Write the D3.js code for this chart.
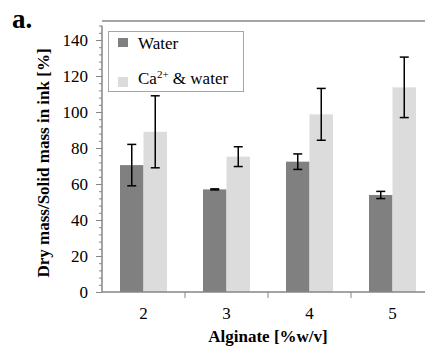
<!DOCTYPE html>
<html><head><meta charset="utf-8">
<script src="https://cdn.jsdelivr.net/npm/d3@7/dist/d3.min.js"></script>
<style>body{margin:0;background:#fff}svg{display:block}svg text{font-family:"Times New Roman","Liberation Serif",Times,serif}</style>
</head><body><svg id="c" width="425" height="352"></svg>
<script>
const categories = ["2","3","4","5"];
const seriesNames = ["Water","Ca2+ & water"];
const waterValues = [70.5, 57, 72.4, 53.9];
const waterErrors = [11.5, 0.3, 4.3, 2];
const caValues = [89, 75.2, 98.7, 113.7];
const caErrors = [20, 5.5, 14.4, 16.8];
const yTicks = [0,20,40,60,80,100,120,140];
const colors = ["#808080","#dcdcdc"];
const FONT = "Times New Roman";

const svg = d3.select("#c");
const left = 102, bottom = 292;
const y = d3.scaleLinear().domain([0,150]).range([bottom, 22]);
const x0 = d3.scaleBand().domain(categories).range([left, left + 83*4]);
const x1 = d3.scaleBand().domain(seriesNames).range([0, x0.bandwidth()]).paddingOuter(0.766);

svg.append("line").attr("x1", left).attr("x2", 425).attr("y1", 21).attr("y2", 21)
  .attr("stroke", "#a6a6a6").attr("stroke-width", 2);

const data = categories.map((c,i)=>({c, vals:[
  {s:seriesNames[0], v:waterValues[i], e:waterErrors[i], col:colors[0]},
  {s:seriesNames[1], v:caValues[i], e:caErrors[i], col:colors[1]}]}));

const groups = svg.append("g").selectAll("g.cat").data(data).join("g").attr("transform", d=>`translate(${x0(d.c)},0)`);
groups.selectAll("rect").data(d=>d.vals).join("rect")
  .attr("x", d=>x1(d.s)).attr("width", x1.bandwidth())
  .attr("y", d=>y(d.v)).attr("height", d=>bottom - y(d.v)).attr("fill", d=>d.col);
const eb = groups.selectAll("g.eb").data(d=>d.vals).join("g").attr("class","eb")
  .attr("transform", d=>`translate(${x1(d.s)+x1.bandwidth()/2},0)`);
eb.append("line").attr("y1", d=>y(d.v+d.e)).attr("y2", d=>y(d.v-d.e)).attr("stroke","#000").attr("stroke-width",1.5);
eb.append("line").attr("x1",-4.5).attr("x2",4.5).attr("y1", d=>y(d.v+d.e)).attr("y2", d=>y(d.v+d.e)).attr("stroke","#000").attr("stroke-width",1.5);
eb.append("line").attr("x1",-4.5).attr("x2",4.5).attr("y1", d=>y(d.v-d.e)).attr("y2", d=>y(d.v-d.e)).attr("stroke","#000").attr("stroke-width",1.5);

const minor = d3.range(0, 149, 4);
svg.append("g").attr("transform", `translate(${left},0)`)
  .call(d3.axisLeft(y).tickValues(minor).tickSize(3).tickFormat(""))
  .call(a=>{a.attr("font-family", null); a.select(".domain").attr("stroke","#868686").attr("stroke-width",1.5).attr("d", `M0,${y(148)}V${bottom}`); a.selectAll("line").attr("stroke","#868686");});
svg.append("g").attr("transform", `translate(${left},0)`)
  .call(d3.axisLeft(y).tickValues(yTicks).tickSize(6).tickPadding(8))
  .call(a=>{a.attr("font-family", FONT).attr("font-size", 17); a.select(".domain").remove(); a.selectAll("line").attr("stroke","#868686");
    a.selectAll("text").attr("font-size",17).attr("fill","#000").attr("font-family",FONT);});

svg.append("line").attr("x1", left).attr("x2", 425).attr("y1", bottom).attr("y2", bottom).attr("stroke","#868686").attr("stroke-width",1.5);
svg.append("g").selectAll("line").data(categories.slice(1)).join("line")
  .attr("x1", d=>x0(d)).attr("x2", d=>x0(d)).attr("y1", bottom).attr("y2", bottom+6).attr("stroke","#868686");
svg.append("g").selectAll("text").data(categories).join("text")
  .attr("x", d=>x0(d)+x0.bandwidth()/2).attr("y", 319).attr("text-anchor","middle")
  .attr("font-family",FONT).attr("font-size",17).text(d=>d);

svg.append("text").attr("x", 268).attr("y", 342).attr("text-anchor","middle").attr("font-family",FONT)
  .attr("font-size",17).attr("font-weight","bold").text("Alginate [%w/v]");
svg.append("text").attr("transform","translate(49,163) rotate(-90)").attr("text-anchor","middle").attr("font-family",FONT)
  .attr("font-size",17).attr("font-weight","bold").text("Dry mass/Solid mass in ink [%]");
svg.append("text").attr("x", 12).attr("y", 28).attr("font-family",FONT).attr("font-size",27).attr("font-weight","bold").text("a.");

const lg = svg.append("g");
lg.append("rect").attr("x",108.5).attr("y",31.5).attr("width",135).attr("height",60).attr("fill","#fff").attr("stroke","#a6a6a6").attr("stroke-width",1);
lg.append("rect").attr("x",118).attr("y",38).attr("width",10).attr("height",9).attr("fill",colors[0]);
lg.append("rect").attr("x",118).attr("y",77).attr("width",10).attr("height",10).attr("fill",colors[1]);
lg.append("text").attr("x",138).attr("y",49).attr("font-family",FONT).attr("font-size",17).text("Water");
const t2 = lg.append("text").attr("x",138).attr("y",84).attr("font-family",FONT).attr("font-size",17);
t2.append("tspan").text("Ca");
t2.append("tspan").attr("font-size",11).attr("dy",-6).text("2+");
t2.append("tspan").attr("dy",6).text(" & water");
</script></body></html>
